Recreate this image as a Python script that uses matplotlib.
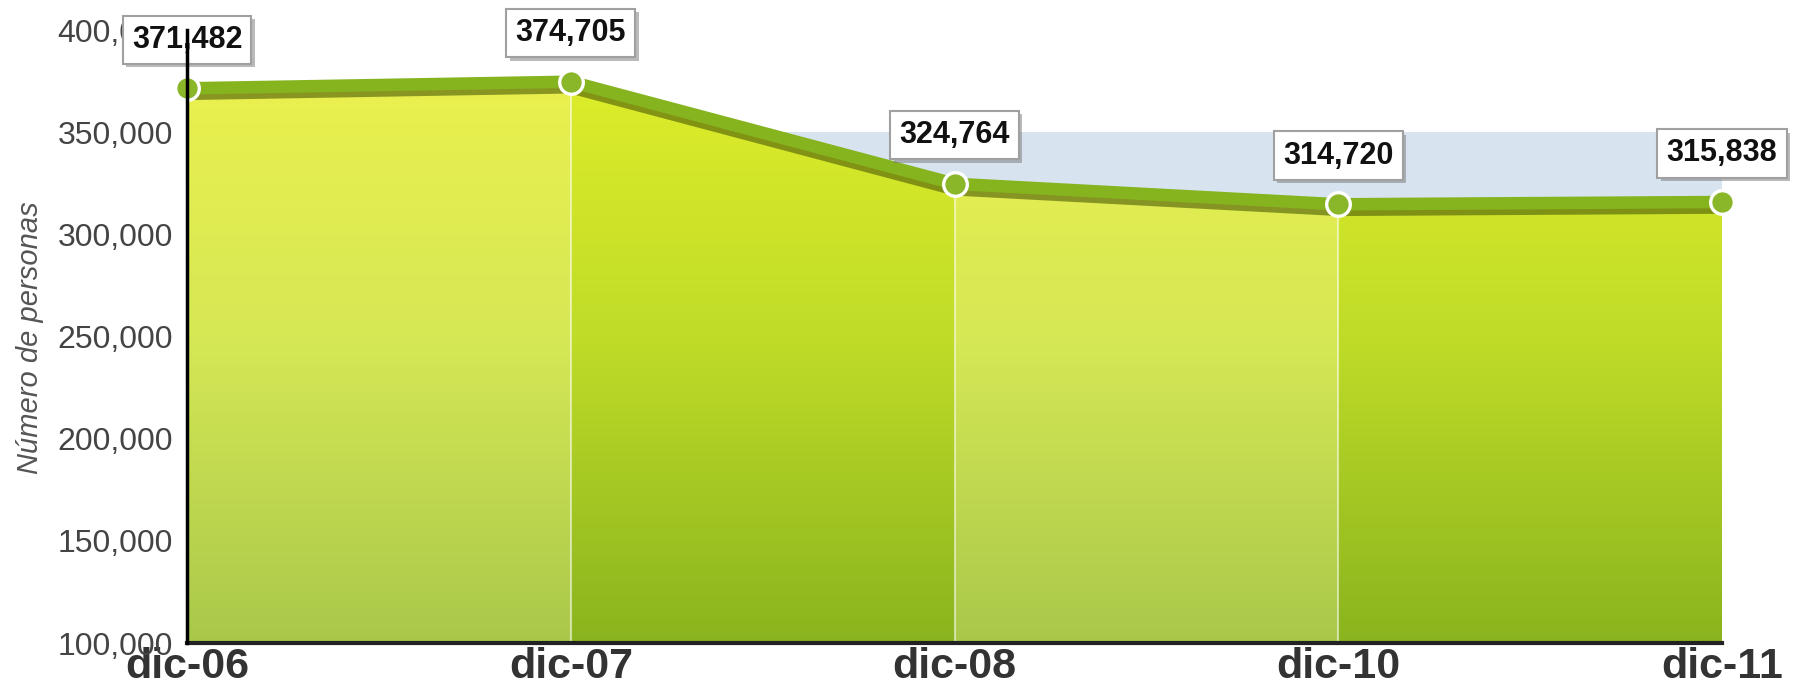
import matplotlib
matplotlib.use('Agg')
import matplotlib.pyplot as plt
import matplotlib.patheffects as pe
import numpy as np
from matplotlib.colors import LinearSegmentedColormap
from matplotlib.patches import Polygon

# Datos de la serie
periodos = ['dic-06', 'dic-07', 'dic-08', 'dic-10', 'dic-11']
personas = [371482, 374705, 324764, 314720, 315838]
etiquetas = ['371,482', '374,705', '324,764', '314,720', '315,838']
marcas_y = [100000, 150000, 200000, 250000, 300000, 350000, 400000]

plt.rcParams['font.family'] = ['Liberation Sans', 'DejaVu Sans']

fig = plt.figure(figsize=(18.02, 6.95), dpi=100)
ax = fig.add_axes([0.1038, 0.0748, 0.8518, 0.882])

x = np.arange(len(periodos))
ax.set_xlim(0, len(periodos) - 1)
ax.set_ylim(marcas_y[0], marcas_y[-1])

# franja azul de fondo
ax.axhspan(300000, 350000, color='#d7e4f0', zorder=0, lw=0)

# area bajo la linea, usada como mascara de los degradados
verts = [(x[0], marcas_y[0])] + list(zip(x, personas)) + [(x[-1], marcas_y[0])]
area = Polygon(verts, closed=True, facecolor='none', edgecolor='none',
               transform=ax.transData)
ax.add_patch(area)

claro = LinearSegmentedColormap.from_list('claro', ['#a9c84a', '#d6e855', '#eef24c'])
oscuro = LinearSegmentedColormap.from_list('oscuro', ['#8ab41e', '#c0dc28', '#e3f02a'])
grad = np.linspace(0, 1, 256).reshape(-1, 1)
for i in range(len(x) - 1):
    cmap = claro if i % 2 == 0 else oscuro
    im = ax.imshow(grad, extent=[x[i], x[i + 1], marcas_y[0], marcas_y[-1]],
                   origin='lower', cmap=cmap, aspect='auto', zorder=1,
                   interpolation='bilinear')
    im.set_clip_path(area)

# separadores blancos entre columnas
ax.vlines(x[1:-1], marcas_y[0], personas[1:-1], colors='white', alpha=0.55,
          lw=1.5, zorder=2)

ax.plot(x, personas, color='#85b41f', lw=9, zorder=4, clip_on=False,
        solid_joinstyle='round',
        path_effects=[pe.SimpleLineShadow(offset=(0, -4), shadow_color='#55650a',
                                          alpha=0.65),
                      pe.Normal()])
ax.plot(x, personas, 'o', ms=17, mfc='#8ab62a', mec='white', mew=2.4,
        zorder=5, clip_on=False)

for xi, yi, t in zip(x, personas, etiquetas):
    ann = ax.annotate(t, (xi, yi), xytext=(0, 35), textcoords='offset points',
                      ha='center', va='center', fontsize=22, fontweight='bold',
                      color='#111111', zorder=6, annotation_clip=False,
                      bbox=dict(boxstyle='square,pad=0.3', fc='white',
                                ec='#a0a0a0', lw=1.5))
    ann.get_bbox_patch().set_path_effects(
        [pe.withSimplePatchShadow(offset=(2.5, -2.5), shadow_rgbFace='#777777',
                                  alpha=0.5)])

ax.set_yticks(marcas_y)
ax.set_yticklabels([f'{v:,}' for v in marcas_y], fontsize=23, color='#444444')
ax.set_xticks(x)
ax.set_xticklabels(periodos, fontsize=31, fontweight='bold', color='#333333')
ax.tick_params(axis='y', length=0, pad=10)
ax.tick_params(axis='x', length=0, pad=3)

for s in ['top', 'right']:
    ax.spines[s].set_visible(False)
ax.spines['left'].set_color('black')
ax.spines['left'].set_linewidth(2.5)
ax.spines['left'].set_zorder(10)
ax.spines['bottom'].set_color('#222222')
ax.spines['bottom'].set_linewidth(3)

fig.text(30 / 1802, 1 - 338 / 695, 'Número de personas', rotation=90,
         style='italic', fontsize=21, color='#555555', ha='center', va='center')

fig.savefig('out.png', dpi=100)
